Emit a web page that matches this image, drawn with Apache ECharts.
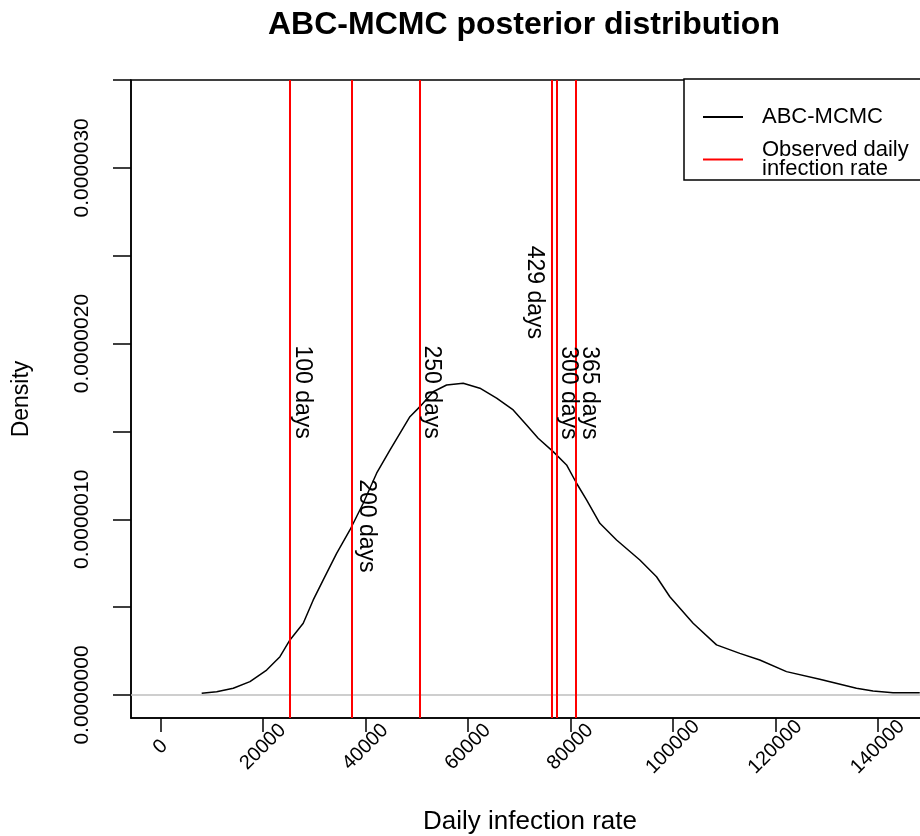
<!DOCTYPE html>
<html>
<head>
<meta charset="utf-8">
<title>ABC-MCMC posterior distribution</title>
<script src="https://cdn.jsdelivr.net/npm/echarts@6/dist/echarts.min.js"></script>
<style>
  html, body { margin: 0; padding: 0; background: #fff; }
  #chart { width: 920px; height: 836px; }
</style>
</head>
<body>
<div id="chart"></div>
<script>
// posterior density (ABC-MCMC)
const rateValues = [
  8039, 10966, 14205, 17463, 20722, 23317, 25268, 27863, 29815, 31766,
  34380, 36976, 39571, 42185, 44780, 46732, 48683, 50634, 53229, 55844,
  59082, 62341, 65600, 68839, 71453, 73717, 76644, 79258, 81210, 83161,
  85756, 89015, 93561, 96820, 99415, 103961, 108527, 113073, 116976, 122185,
  128683, 135844, 139083, 142985, 148195
]
const densityValues = [
  0.010e-6, 0.019e-6, 0.038e-6, 0.076e-6, 0.142e-6, 0.218e-6, 0.313e-6, 0.408e-6, 0.541e-6, 0.655e-6,
  0.806e-6, 0.939e-6, 1.091e-6, 1.262e-6, 1.394e-6, 1.489e-6, 1.584e-6, 1.641e-6, 1.726e-6, 1.764e-6,
  1.774e-6, 1.746e-6, 1.689e-6, 1.622e-6, 1.537e-6, 1.461e-6, 1.385e-6, 1.309e-6, 1.205e-6, 1.110e-6,
  0.977e-6, 0.882e-6, 0.768e-6, 0.673e-6, 0.559e-6, 0.408e-6, 0.285e-6, 0.237e-6, 0.199e-6, 0.133e-6,
  0.089e-6, 0.038e-6, 0.023e-6, 0.013e-6, 0.013e-6
]

// observed daily infection rates (red lines)
const observedDays = ['100 days', '200 days', '250 days', '300 days', '365 days', '429 days']
const observedRates = [25268, 37366, 50634, 77307, 81132, 76449]
// text() positions of the day labels, in data units
const labelRates = [27610, 40097, 52780, 79512, 83800, 72877]
const labelDensities = [1.724e-6, 0.962e-6, 1.724e-6, 1.719e-6, 1.719e-6, 2.291e-6]

// axis ticks
const xTicks = [0, 20000, 40000, 60000, 80000, 100000, 120000, 140000]
const yTicks = [0, 0.5e-6, 1e-6, 1.5e-6, 2e-6, 2.5e-6, 3e-6, 3.5e-6]
const yTickLabels = [0, 1e-6, 2e-6, 3e-6]

const FONT = '"Liberation Sans", Arial, sans-serif'

const chart = echarts.init(document.getElementById('chart'))

chart.setOption({
  animation: false,
  backgroundColor: '#fff',
  title: {
    text: 'ABC-MCMC posterior distribution',
    left: 268,
    top: 9,
    padding: 0,
    textStyle: { fontFamily: FONT, fontSize: 32, fontWeight: 'bold', color: '#000' }
  },
  legend: {
    orient: 'vertical',
    left: 684,
    top: 79,
    data: ['ABC-MCMC', 'Observed daily\ninfection rate'],
    icon: 'rect',
    itemWidth: 40,
    itemHeight: 2,
    itemGap: 11,
    padding: [27, 40, 0, 19],
    borderColor: '#000',
    borderWidth: 1.5,
    borderRadius: 0,
    backgroundColor: '#fff',
    selectedMode: false,
    textStyle: { fontFamily: FONT, fontSize: 22, lineHeight: 19, color: '#000', padding: [0, 0, 0, 14] }
  },
  grid: {
    left: 131,
    top: 80,
    width: 798,
    height: 638,
    show: true,
    borderColor: '#000',
    borderWidth: 1.5,
    backgroundColor: 'transparent',
    outerBoundsMode: 'none'
  },
  xAxis: {
    type: 'value',
    min: -5756,
    max: 150000,
    name: 'Daily infection rate',
    nameLocation: 'middle',
    nameGap: 91,
    nameMoveOverlap: false,
    nameTextStyle: { fontFamily: FONT, fontSize: 26, color: '#000' },
    axisLine: { show: true, onZero: false, lineStyle: { color: '#000', width: 1.5 } },
    axisTick: { show: true, length: 14, lineStyle: { color: '#000', width: 1.5 }, customValues: xTicks },
    axisLabel: {
      customValues: xTicks,
      rotate: 45,
      align: 'center',
      verticalAlign: 'middle',
      margin: 29,
      fontFamily: FONT,
      fontSize: 20,
      color: '#000',
      formatter: v => String(v)
    },
    splitLine: { show: false }
  },
  yAxis: {
    type: 'value',
    min: -0.131e-6,
    max: 3.5e-6,
    name: 'Density',
    nameLocation: 'middle',
    nameGap: 98,
    nameRotate: 90,
    nameMoveOverlap: false,
    nameTextStyle: { fontFamily: FONT, fontSize: 23, color: '#000' },
    axisLine: { show: true, onZero: false, lineStyle: { color: '#000', width: 1.5 } },
    axisTick: { show: true, length: 18, lineStyle: { color: '#000', width: 1.5 }, customValues: yTicks },
    axisLabel: {
      customValues: yTickLabels,
      rotate: 90,
      margin: 38,
      fontFamily: FONT,
      fontSize: 21,
      color: '#000',
      formatter: v => v.toFixed(7)
    },
    splitLine: { show: false }
  },
  series: [
    {
      name: 'ABC-MCMC',
      type: 'line',
      data: rateValues.map((x, i) => [x, densityValues[i]]),
      symbol: 'none',
      color: '#000',
      lineStyle: { color: '#000', width: 1.5 },
      z: 3,
      markLine: {
        silent: true,
        symbol: ['none', 'none'],
        label: { show: false },
        lineStyle: { color: '#bebebe', width: 1.5, type: 'solid' },
        data: [{ yAxis: 0 }],
        z: 1
      }
    },
    {
      name: 'Observed daily\ninfection rate',
      type: 'line',
      data: [],
      symbol: 'none',
      color: '#ff0000',
      lineStyle: { color: '#ff0000', width: 2 },
      z: 4,
      markLine: {
        silent: true,
        symbol: ['none', 'none'],
        label: { show: false },
        lineStyle: { color: '#ff0000', width: 2, type: 'solid' },
        data: observedRates.map(v => ({ xAxis: v }))
      }
    },
    {
      name: 'day labels',
      type: 'scatter',
      symbol: 'circle',
      symbolSize: 1,
      itemStyle: { opacity: 0 },
      silent: true,
      z: 5,
      data: labelRates.map((x, i) => ({ value: [x, labelDensities[i]], name: observedDays[i] })),
      label: {
        show: true,
        formatter: '{b}',
        position: 'inside',
        rotate: -90,
        opacity: 1,
        fontFamily: FONT,
        fontSize: 23,
        color: '#000'
      }
    }
  ]
})
</script>
</body>
</html>
